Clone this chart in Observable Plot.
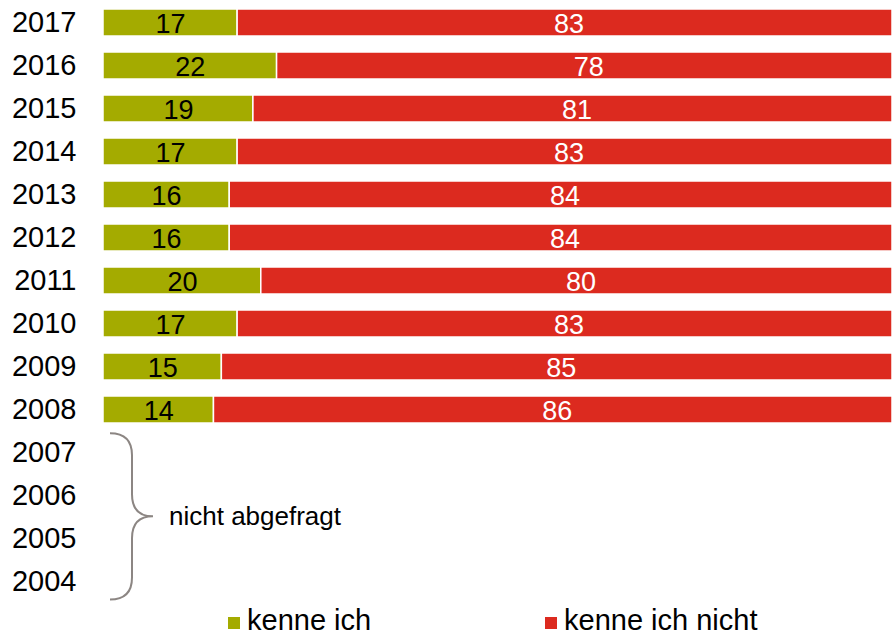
<!DOCTYPE html>
<html>
<head>
<meta charset="utf-8">
<script src="https://cdn.jsdelivr.net/npm/d3@7"></script>
<script src="https://cdn.jsdelivr.net/npm/@observablehq/plot@0.6"></script>
<style>
  html, body { margin: 0; padding: 0; background: #fff; }
  body { width: 892px; height: 636px; overflow: hidden; font-family: "Liberation Sans", Arial, sans-serif; }
  #legend { position: relative; height: 33px; }
  .li { position: absolute; top: 3px; display: flex; align-items: center; font-size: 29px; line-height: 29px; height: 29px; color: #000; }
  .sw { width: 12px; height: 12px; margin-right: 7px; margin-top: 5px; }
</style>
</head>
<body>
<div id="chart"></div>
<div id="legend"></div>
<script>
const years = ["2017","2016","2015","2014","2013","2012","2011","2010","2009","2008","2007","2006","2005","2004"];
const kenneIch = [17,22,19,17,16,16,20,17,15,14];
const kenneIchNicht = [83,78,81,83,84,84,80,83,85,86];
const categories = ["kenne ich","kenne ich nicht"];
const colors = ["#a4ab00","#dc2a1f"];
const gapLabel = "nicht abgefragt";
const gapYears = ["2007","2004"];

const rows = [];
kenneIch.forEach((v, i) => {
  rows.push({year: years[i], cat: categories[0], value: v, mid: v / 2});
  rows.push({year: years[i], cat: categories[1], value: kenneIchNicht[i], mid: v + kenneIchNicht[i] / 2});
});

const plot = Plot.plot({
  width: 892,
  height: 603,
  marginLeft: 103,
  marginRight: 0,
  marginTop: 0,
  marginBottom: 0,
  style: {fontFamily: "'Liberation Sans', Arial, sans-serif", fontSize: "29px", color: "#000"},
  x: {domain: [0, 100], axis: null},
  y: {domain: years, paddingInner: 0.374, paddingOuter: 0.174, label: null},
  color: {domain: categories, range: colors},
  marks: [
    Plot.barX(rows, Plot.stackX({y: "year", x: "value", fill: "cat", order: categories, stroke: "white", strokeWidth: 1.5})),
    Plot.text(rows.filter(d => d.cat === categories[0]), {y: "year", x: "mid", text: "value", fill: "black", fontSize: 27, dy: 1}),
    Plot.text(rows.filter(d => d.cat === categories[1]), {y: "year", x: "mid", text: "value", fill: "white", fontSize: 27, dy: 1, dx: 4}),
    Plot.axisY({tickSize: 0, tickPadding: 27, fontSize: 29, label: null})
  ]
});
document.getElementById("chart").appendChild(plot);

// brace for the years not surveyed
const ys = plot.scale("y");
const step = ys.step !== undefined ? ys.step : 43.15;
const bw = ys.bandwidth;
const T = ys.apply(gapYears[0]) + bw / 2 - step * 0.45;
const B = ys.apply(gapYears[1]) + bw / 2 + step * 0.42;
const M = (T + B) / 2;
const x0 = 110, xv = 132, xt = 153, r = 22;
const p = d3.path();
p.moveTo(x0, T);
p.quadraticCurveTo(xv, T, xv, T + r);
p.lineTo(xv, M - r);
p.quadraticCurveTo(xv, M, xt, M);
p.quadraticCurveTo(xv, M, xv, M + r);
p.lineTo(xv, B - r);
p.quadraticCurveTo(xv, B, x0, B);
const svg = d3.select(plot);
svg.append("path").attr("d", p.toString()).attr("fill", "none").attr("stroke", "#8c8683").attr("stroke-width", 2);
svg.append("text").attr("x", 169).attr("y", M).attr("dy", "0.35em")
  .attr("text-anchor", "start").attr("font-size", 26).attr("fill", "#000").text(gapLabel);

// legend
const legend = d3.select("#legend");
const lx = [228, 545];
categories.forEach((c, i) => {
  const item = legend.append("div").attr("class", "li").style("left", lx[i] + "px");
  item.append("div").attr("class", "sw").style("background", colors[i]);
  item.append("span").text(c);
});
</script>
</body>
</html>
